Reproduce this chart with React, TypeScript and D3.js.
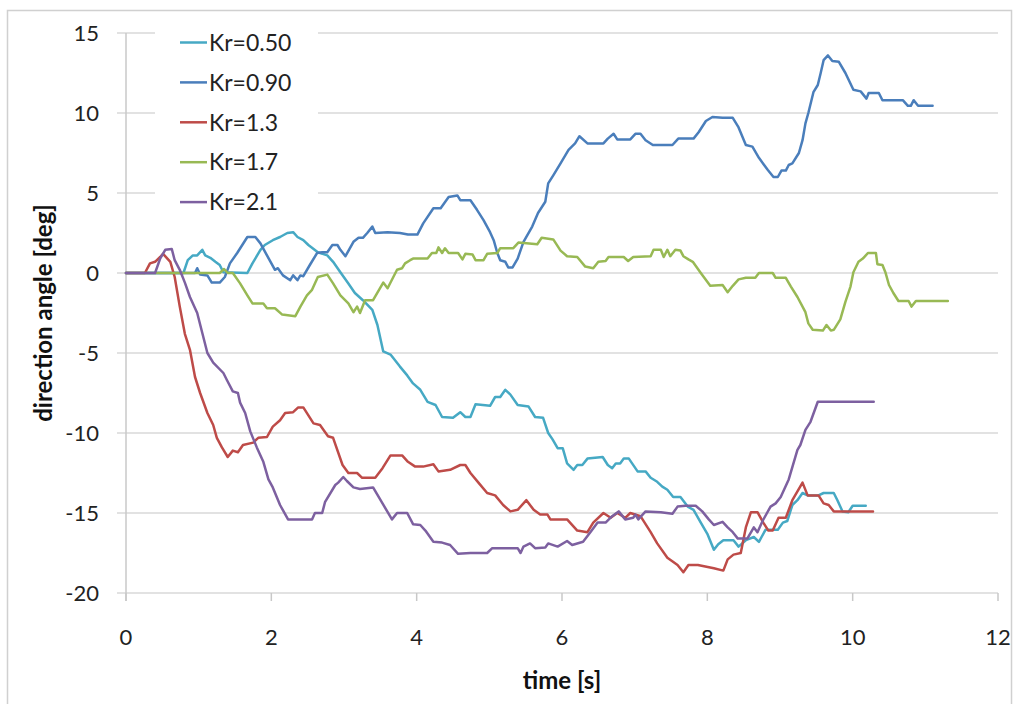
import * as d3 from 'd3';
import React, { useRef, useEffect } from 'react';

// axis ticks
const xTicks = [0, 2, 4, 6, 8, 10, 12];
const yTicks = [-20, -15, -10, -5, 0, 5, 10, 15];

const seriesNames = ['Kr=0.50', 'Kr=0.90', 'Kr=1.3', 'Kr=1.7', 'Kr=2.1'];
const seriesColors = ['#46a9c4', '#4a7ebb', '#be4b48', '#98b954', '#7d60a0'];

// [time s, direction angle deg]
const kr050: [number, number][] = [
  [0, 0], [0.79, 0], [0.85, 0.8], [0.92, 1.1], [0.98, 1.1], [1.05, 1.45], [1.09, 1.1], [1.16, 0.95],
  [1.23, 0.7], [1.29, 0.5], [1.34, 0.05], [1.67, 0], [1.74, 0.6], [1.85, 1.45], [1.91, 1.75], [2.02, 2.05],
  [2.12, 2.25], [2.22, 2.5], [2.3, 2.55], [2.36, 2.25], [2.44, 2.05], [2.51, 1.75], [2.64, 1.3], [2.77, 1.1],
  [2.85, 0.7], [2.95, 0.05], [3.06, -0.65], [3.15, -1.25], [3.26, -1.7], [3.39, -2.3], [3.46, -3.25],
  [3.54, -4.9], [3.64, -5.1], [3.77, -5.85], [3.87, -6.4], [3.95, -6.9], [4.05, -7.3], [4.15, -8.05],
  [4.26, -8.25], [4.35, -9], [4.5, -9.05], [4.6, -8.7], [4.67, -9], [4.74, -9], [4.81, -8.2], [5.01, -8.3],
  [5.08, -7.75], [5.15, -7.75], [5.22, -7.3], [5.29, -7.6], [5.39, -8.25], [5.54, -8.35], [5.63, -9],
  [5.74, -9.05], [5.81, -10], [5.87, -10.4], [5.94, -10.95], [6.01, -10.95], [6.07, -11.9], [6.16, -12.3],
  [6.21, -12], [6.28, -12], [6.35, -11.6], [6.56, -11.5], [6.63, -12], [6.69, -12.2], [6.74, -11.9],
  [6.8, -11.9], [6.85, -11.6], [6.92, -11.6], [7.04, -12.4], [7.15, -12.4], [7.22, -12.8], [7.31, -13.05],
  [7.38, -13.35], [7.45, -13.55], [7.53, -14], [7.63, -14], [7.73, -14.6], [7.81, -14.8], [7.91, -15.6],
  [8.0, -16.3], [8.09, -17.3], [8.15, -16.95], [8.22, -16.7], [8.36, -16.7], [8.43, -17.1], [8.53, -16.7],
  [8.64, -16.5], [8.71, -16.8], [8.8, -16.05], [8.97, -16.05], [9.04, -15.6], [9.1, -15.5], [9.17, -14.5],
  [9.24, -14.2], [9.31, -13.75], [9.38, -13.9], [9.53, -13.9], [9.6, -13.75], [9.74, -13.75], [9.79, -14.2],
  [9.86, -14.9], [9.94, -14.95], [10.0, -14.55], [10.18, -14.55],
];

const kr090: [number, number][] = [
  [0, 0], [0.95, 0], [0.98, 0.3], [1.02, -0.1], [1.12, -0.15], [1.18, -0.6], [1.29, -0.6], [1.36, -0.25],
  [1.43, 0.6], [1.53, 1.25], [1.67, 2.25], [1.78, 2.25], [1.85, 1.85], [1.94, 1.1], [2.05, 0.2], [2.09, 0.3],
  [2.16, -0.15], [2.26, -0.45], [2.3, -0.15], [2.36, -0.45], [2.4, -0.15], [2.44, -0.2], [2.53, 0.5],
  [2.63, 1.25], [2.7, 1.3], [2.77, 1.3], [2.84, 1.75], [2.91, 1.75], [2.95, 1.45], [3.02, 1.05], [3.13, 1.95],
  [3.2, 2.2], [3.26, 2.2], [3.32, 2.5], [3.39, 2.9], [3.43, 2.5], [3.6, 2.55], [3.77, 2.5], [3.88, 2.4],
  [4.01, 2.4], [4.09, 3.1], [4.23, 4.05], [4.33, 4.05], [4.44, 4.75], [4.56, 4.85], [4.6, 4.55], [4.74, 4.55],
  [4.83, 3.95], [4.92, 3.3], [5.01, 2.55], [5.06, 2.05], [5.11, 1.25], [5.15, 0.8], [5.22, 0.7], [5.26, 0.35],
  [5.32, 0.35], [5.39, 0.9], [5.47, 1.95], [5.59, 2.9], [5.67, 3.75], [5.77, 4.45], [5.81, 5.6], [5.88, 6.1],
  [5.98, 6.85], [6.09, 7.7], [6.18, 8.1], [6.24, 8.55], [6.35, 8.1], [6.57, 8.1], [6.63, 8.4], [6.71, 8.7],
  [6.76, 8.35], [6.94, 8.35], [7.01, 8.7], [7.08, 8.7], [7.15, 8.3], [7.25, 8], [7.52, 8], [7.6, 8.4],
  [7.81, 8.4], [7.88, 8.8], [7.98, 9.5], [8.07, 9.75], [8.21, 9.7], [8.35, 9.7], [8.43, 9.1], [8.53, 8],
  [8.62, 7.9], [8.71, 7.2], [8.83, 6.45], [8.91, 6.0], [8.97, 6.0], [9.02, 6.4], [9.08, 6.4], [9.12, 6.75],
  [9.17, 6.85], [9.26, 7.5], [9.31, 8.3], [9.35, 9.35], [9.39, 10], [9.46, 11.3], [9.52, 11.75], [9.56, 12.5],
  [9.6, 13.3], [9.66, 13.6], [9.72, 13.25], [9.81, 13.2], [9.9, 12.5], [10.01, 11.45], [10.11, 11.35],
  [10.19, 10.9], [10.22, 11.25], [10.36, 11.25], [10.41, 10.8], [10.69, 10.8], [10.76, 10.45], [10.8, 10.45],
  [10.84, 10.8], [10.9, 10.45], [11.1, 10.45],
];

const kr13: [number, number][] = [
  [0, 0], [0.26, 0], [0.33, 0.6], [0.4, 0.7], [0.47, 1.0], [0.51, 1.2], [0.61, 0.7], [0.67, -0.25],
  [0.74, -2.1], [0.81, -3.8], [0.88, -4.8], [0.95, -6.5], [1.02, -7.5], [1.12, -8.75], [1.2, -9.5],
  [1.25, -10.3], [1.32, -10.9], [1.4, -11.5], [1.47, -11.1], [1.54, -11.2], [1.61, -10.75], [1.75, -10.6],
  [1.82, -10.3], [1.94, -10.25], [2.02, -9.6], [2.12, -9.2], [2.19, -8.75], [2.3, -8.7], [2.37, -8.4],
  [2.44, -8.4], [2.58, -9.4], [2.67, -9.5], [2.78, -10.2], [2.85, -10.3], [2.98, -12], [3.06, -12.5],
  [3.18, -12.5], [3.25, -12.8], [3.43, -12.8], [3.53, -12.2], [3.64, -11.4], [3.8, -11.4], [3.88, -11.8],
  [3.98, -12.1], [4.09, -12.1], [4.23, -11.95], [4.3, -12.4], [4.46, -12.3], [4.6, -12], [4.67, -12],
  [4.74, -12.5], [4.85, -13.1], [4.97, -13.75], [5.08, -13.9], [5.19, -14.5], [5.29, -14.9], [5.39, -14.8],
  [5.51, -14.2], [5.61, -14.8], [5.7, -15.1], [5.8, -15.1], [5.84, -15.4], [6.07, -15.4], [6.21, -16.1],
  [6.35, -16.2], [6.43, -15.6], [6.57, -15], [6.67, -15.3], [6.76, -15], [6.87, -15.3], [6.94, -15],
  [7.08, -15.2], [7.22, -16.2], [7.31, -16.9], [7.45, -17.8], [7.59, -18.25], [7.67, -18.7], [7.74, -18.25],
  [7.87, -18.25], [8.09, -18.45], [8.22, -18.6], [8.28, -17.9], [8.36, -17.6], [8.46, -17.5], [8.53, -15.9],
  [8.6, -14.95], [8.69, -14.95], [8.77, -15.6], [8.84, -16.1], [8.9, -16.1], [8.98, -15.3], [9.08, -15.3],
  [9.17, -14.2], [9.31, -13.1], [9.38, -13.9], [9.53, -13.9], [9.6, -14.4], [9.67, -14.5], [9.74, -14.9],
  [10.28, -14.9],
];

const kr17: [number, number][] = [
  [0, 0], [1.29, 0], [1.35, 0.25], [1.4, 0], [1.47, 0], [1.57, -0.65], [1.67, -1.4], [1.74, -1.9],
  [1.89, -1.9], [1.94, -2.2], [2.05, -2.2], [2.15, -2.6], [2.33, -2.7], [2.4, -2.1], [2.49, -1.4],
  [2.56, -1.05], [2.64, -0.25], [2.77, -0.1], [2.85, -0.65], [2.95, -1.4], [3.06, -1.9], [3.13, -2.45],
  [3.18, -2.1], [3.22, -2.5], [3.29, -1.7], [3.4, -1.7], [3.54, -0.6], [3.6, -0.95], [3.73, 0.2], [3.8, 0.3],
  [3.84, 0.6], [3.91, 0.8], [3.95, 0.9], [4.15, 0.9], [4.21, 1.25], [4.27, 1.25], [4.3, 1.6], [4.35, 1.25],
  [4.39, 1.55], [4.44, 1.25], [4.57, 1.25], [4.63, 0.85], [4.67, 1.2], [4.77, 1.15], [4.81, 0.8], [4.92, 0.8],
  [4.97, 1.2], [5.11, 1.25], [5.15, 1.55], [5.33, 1.55], [5.4, 1.9], [5.66, 1.8], [5.72, 2.2], [5.88, 2.1],
  [5.98, 1.4], [6.07, 1.05], [6.21, 1.0], [6.32, 0.4], [6.43, 0.3], [6.5, 0.7], [6.6, 0.75], [6.64, 1.0],
  [6.85, 1.0], [6.91, 0.75], [6.98, 1.0], [7.22, 1.05], [7.26, 1.45], [7.36, 1.45], [7.4, 1.0], [7.45, 1.45],
  [7.49, 1.05], [7.56, 1.45], [7.63, 1.4], [7.67, 1.05], [7.74, 0.85], [7.8, 0.7], [7.91, 0], [8.04, -0.8],
  [8.21, -0.75], [8.28, -1.2], [8.35, -0.8], [8.43, -0.4], [8.53, -0.3], [8.66, -0.3], [8.71, 0], [8.9, 0],
  [8.94, -0.3], [9.08, -0.3], [9.15, -0.85], [9.24, -1.5], [9.35, -2.45], [9.39, -3.15], [9.45, -3.55],
  [9.59, -3.6], [9.64, -3.25], [9.7, -3.6], [9.74, -3.55], [9.83, -2.9], [9.9, -1.8], [9.97, -0.85],
  [10.01, 0.05], [10.08, 0.7], [10.14, 0.9], [10.21, 1.25], [10.32, 1.25], [10.34, 0.55], [10.41, 0.5],
  [10.45, 0.05], [10.5, -0.75], [10.56, -1.25], [10.63, -1.75], [10.77, -1.75], [10.81, -2.1], [10.87, -1.75],
  [11.31, -1.75],
];

const kr21: [number, number][] = [
  [0, 0], [0.4, 0], [0.47, 0.9], [0.54, 1.45], [0.63, 1.5], [0.67, 0.8], [0.74, 0.2], [0.81, -0.6],
  [0.88, -1.5], [0.98, -2.5], [1.05, -3.75], [1.12, -5], [1.2, -5.6], [1.34, -6.25], [1.39, -6.7],
  [1.47, -7.4], [1.54, -7.5], [1.57, -8.1], [1.64, -8.75], [1.71, -9.9], [1.8, -10.9], [1.89, -11.8],
  [1.96, -12.9], [2.02, -13.4], [2.12, -14.5], [2.23, -15.4], [2.4, -15.4], [2.56, -15.4], [2.6, -15],
  [2.7, -15], [2.74, -14.3], [2.88, -13.25], [2.92, -13.1], [2.99, -12.75], [3.04, -13], [3.13, -13.4],
  [3.22, -13.5], [3.4, -13.4], [3.53, -14.4], [3.66, -15.4], [3.73, -15], [3.87, -15], [3.95, -15.7],
  [4.05, -15.75], [4.12, -16.1], [4.23, -16.8], [4.35, -16.85], [4.46, -17], [4.57, -17.55], [4.74, -17.5],
  [4.97, -17.5], [5.04, -17.2], [5.25, -17.2], [5.39, -17.2], [5.43, -17.5], [5.47, -17.1], [5.56, -16.9],
  [5.63, -17.2], [5.77, -17.15], [5.81, -16.9], [5.94, -17.1], [6.07, -16.75], [6.14, -17], [6.29, -16.8],
  [6.39, -16.2], [6.49, -15.6], [6.6, -15.6], [6.69, -15.2], [6.78, -14.9], [6.87, -15.4], [6.98, -15.3],
  [7.01, -15.1], [7.05, -15.4], [7.15, -14.9], [7.36, -14.95], [7.52, -15.05], [7.59, -14.6], [7.7, -14.55],
  [7.84, -14.55], [7.93, -14.9], [8.02, -15.4], [8.09, -15.75], [8.21, -15.55], [8.28, -15.9], [8.35, -16.2],
  [8.42, -16.6], [8.55, -16.6], [8.64, -15.9], [8.69, -16.2], [8.76, -15.5], [8.87, -14.6], [8.94, -14.4],
  [9.01, -14], [9.12, -12.9], [9.24, -11.05], [9.28, -10.75], [9.35, -9.8], [9.42, -9.3], [9.52, -8.05],
  [10.29, -8.05],
];

const allSeries = [kr050, kr090, kr13, kr17, kr21];

const FONT = "Lato, 'Open Sans', sans-serif";

function App() {
  const svgRef = useRef<SVGSVGElement>(null);

  useEffect(() => {
    document.body.style.margin = '0';
    const width = 1019,
      height = 704;
    const plot = { left: 126, right: 998, top: 33, bottom: 593 };

    const svg = d3.select(svgRef.current).attr('width', width).attr('height', height);
    svg.selectAll('*').remove();

    svg
      .append('rect')
      .attr('width', width)
      .attr('height', height)
      .attr('fill', '#fff');

    // outer chart border
    svg
      .append('rect')
      .attr('x', 7.5)
      .attr('y', 10.5)
      .attr('width', 1004)
      .attr('height', 700)
      .attr('fill', 'none')
      .attr('stroke', '#d0d0d0')
      .attr('stroke-width', 1.5);

    const x = d3.scaleLinear().domain([0, 12]).range([plot.left, plot.right]);
    const y = d3.scaleLinear().domain([-20, 15]).range([plot.bottom, plot.top]);

    // horizontal gridlines
    svg
      .append('g')
      .selectAll('line')
      .data(yTicks)
      .join('line')
      .attr('x1', plot.left - 9)
      .attr('x2', plot.right)
      .attr('y1', (d) => y(d))
      .attr('y2', (d) => y(d))
      .attr('stroke', '#d9d9d9')
      .attr('stroke-width', 1.5);

    // y axis line
    svg
      .append('line')
      .attr('x1', plot.left)
      .attr('x2', plot.left)
      .attr('y1', plot.top)
      .attr('y2', plot.bottom + 8)
      .attr('stroke', '#c8c8c8')
      .attr('stroke-width', 1.5);

    // x axis ticks
    svg
      .append('g')
      .selectAll('line')
      .data(xTicks)
      .join('line')
      .attr('x1', (d) => x(d))
      .attr('x2', (d) => x(d))
      .attr('y1', plot.bottom)
      .attr('y2', plot.bottom + 8)
      .attr('stroke', '#c8c8c8')
      .attr('stroke-width', 1.5);

    // tick labels
    svg
      .append('g')
      .selectAll('text')
      .data(yTicks)
      .join('text')
      .attr('x', 99)
      .attr('y', (d) => y(d))
      .attr('dy', '0.36em')
      .attr('text-anchor', 'end')
      .attr('font-family', FONT)
      .attr('font-size', 22)
      .attr('fill', '#222')
      .text((d) => d);

    svg
      .append('g')
      .selectAll('text')
      .data(xTicks)
      .join('text')
      .attr('x', (d) => x(d))
      .attr('y', 637)
      .attr('dy', '0.36em')
      .attr('text-anchor', 'middle')
      .attr('font-family', FONT)
      .attr('font-size', 22)
      .attr('fill', '#222')
      .text((d) => d);

    // axis titles
    svg
      .append('text')
      .attr('x', (plot.left + plot.right) / 2)
      .attr('y', 680)
      .attr('dy', '0.36em')
      .attr('text-anchor', 'middle')
      .attr('font-family', FONT)
      .attr('font-weight', 'bold')
      .attr('font-size', 24)
      .attr('fill', '#111')
      .text('time [s]');

    svg
      .append('text')
      .attr('transform', `translate(43,${(plot.top + plot.bottom) / 2}) rotate(-90)`)
      .attr('dy', '0.36em')
      .attr('text-anchor', 'middle')
      .attr('font-family', FONT)
      .attr('font-weight', 'bold')
      .attr('font-size', 24)
      .attr('fill', '#111')
      .text('direction angle [deg]');

    // legend
    const legend = svg.append('g');
    legend
      .append('rect')
      .attr('x', 155)
      .attr('y', 22)
      .attr('width', 163)
      .attr('height', 200)
      .attr('fill', '#fff');
    seriesNames.forEach((name, i) => {
      const ly = 42.5 + i * 39.9;
      legend
        .append('line')
        .attr('x1', 180)
        .attr('x2', 207)
        .attr('y1', ly)
        .attr('y2', ly)
        .attr('stroke', seriesColors[i])
        .attr('stroke-width', 2.5);
      legend
        .append('text')
        .attr('x', 209)
        .attr('y', ly)
        .attr('dy', '0.36em')
        .attr('font-family', FONT)
        .attr('font-size', 23)
        .attr('fill', '#222')
        .text(name);
    });

    // series lines
    const line = d3
      .line<[number, number]>()
      .x((d) => x(d[0]))
      .y((d) => y(d[1]));

    allSeries.forEach((data, i) => {
      svg
        .append('path')
        .datum(data)
        .attr('fill', 'none')
        .attr('stroke', seriesColors[i])
        .attr('stroke-width', 2.5)
        .attr('stroke-linejoin', 'round')
        .attr('stroke-linecap', 'round')
        .attr('d', line);
    });
  }, []);

  return (
    <>
      <svg ref={svgRef} style={{ display: 'block' }}></svg>
    </>
  );
}

export default App;
